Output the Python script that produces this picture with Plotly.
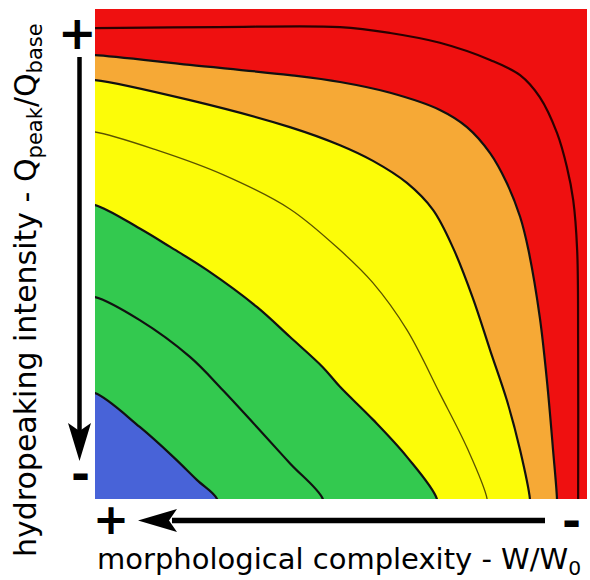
import plotly.graph_objects as go

# Contour lines (x: 0=left .. 1=right, y: 0=bottom .. 1=top)
c1_x = [0.0, 0.091, 0.159, 0.207, 0.248]
c1_y = [0.216, 0.147, 0.086, 0.039, 0.0]

c2_x = [0.0, 0.091, 0.193, 0.260, 0.329, 0.396, 0.463]
c2_y = [0.412, 0.365, 0.290, 0.222, 0.147, 0.073, 0.0]

c3_x = [0.0, 0.091, 0.152, 0.228, 0.329, 0.396, 0.463, 0.498, 0.565, 0.634, 0.695]
c3_y = [0.600, 0.552, 0.515, 0.467, 0.392, 0.331, 0.269, 0.229, 0.162, 0.086, 0.0]

c4_x = [0.0, 0.126, 0.260, 0.396, 0.498, 0.565, 0.634, 0.701, 0.756, 0.797]
c4_y = [0.749, 0.712, 0.662, 0.592, 0.508, 0.441, 0.345, 0.215, 0.105, 0.0]

c5_x = [0.0, 0.193, 0.396, 0.498, 0.565, 0.634, 0.687, 0.728, 0.768, 0.803, 0.837, 0.864, 0.884]
c5_y = [0.855, 0.814, 0.759, 0.722, 0.690, 0.645, 0.590, 0.512, 0.410, 0.304, 0.202, 0.100, 0.0]

c6_x = [0.0, 0.193, 0.396, 0.498, 0.600, 0.701, 0.756, 0.803, 0.837, 0.864, 0.881, 0.904, 0.919, 0.931, 0.939]
c6_y = [0.906, 0.886, 0.865, 0.851, 0.829, 0.794, 0.759, 0.706, 0.645, 0.576, 0.508, 0.371, 0.237, 0.100, 0.0]

c7_x = [0.0, 0.250, 0.498, 0.600, 0.701, 0.803, 0.864, 0.904, 0.939, 0.959, 0.972, 0.980, 0.982, 0.982]
c7_y = [0.961, 0.963, 0.963, 0.951, 0.931, 0.896, 0.865, 0.820, 0.747, 0.678, 0.610, 0.508, 0.304, 0.0]

RED = "#EF1010"
ORANGE = "#F6A936"
YELLOW = "#FCFC08"
GREEN = "#33C94F"
BLUE = "#4863D8"

contours = [
    (c7_x, c7_y, RED, "#2a0000", 2.2),
    (c6_x, c6_y, ORANGE, "#111111", 2.2),
    (c5_x, c5_y, YELLOW, "#111111", 2.2),
    (c4_x, c4_y, YELLOW, "#5a5200", 1.3),
    (c3_x, c3_y, GREEN, "#111111", 2.2),
    (c2_x, c2_y, GREEN, "#111111", 2.2),
    (c1_x, c1_y, BLUE, "#111111", 2.2),
]

EXT = 0.03  # closing path runs just outside the (clipped) plot area
fig = go.Figure()
for xs, ys, fillc, lc, lw in contours:
    px_ = [-EXT] + list(xs) + [xs[-1], -EXT]
    py_ = [ys[0]] + list(ys) + [-EXT, -EXT]
    fig.add_trace(go.Scatter(x=px_, y=py_, mode="lines", fill="toself", fillcolor=fillc,
                             line=dict(color=lc, width=lw, shape="spline", smoothing=1.0),
                             hoverinfo="skip", showlegend=False))

W, H = 590, 580
L, R, T, B = 95, 3, 9, 81
PW, PH = W - L - R, H - T - B


def px(x):
    return (x - L) / PW


def py(y):
    return (H - B - y) / PH


shapes = []
# vertical arrow
shapes.append(dict(type="line", xref="paper", yref="paper", x0=px(79.5), x1=px(79.5), y0=py(57), y1=py(432),
                   line=dict(color="black", width=4.5)))
shapes.append(dict(type="path", xref="paper", yref="paper", fillcolor="black", line=dict(width=0),
                   path=f"M {px(68)},{py(423)} L {px(79.5)},{py(461)} L {px(91)},{py(423)} L {px(79.5)},{py(431)} Z"))
# horizontal arrow
shapes.append(dict(type="line", xref="paper", yref="paper", x0=px(545), x1=px(172), y0=py(520.5), y1=py(520.5),
                   line=dict(color="black", width=5.5)))
shapes.append(dict(type="path", xref="paper", yref="paper", fillcolor="black", line=dict(width=0),
                   path=f"M {px(177)},{py(509)} L {px(138)},{py(520.5)} L {px(177)},{py(532)} L {px(169)},{py(520.5)} Z"))

FONT = "DejaVu Sans"
SYM = dict(family="DejaVu Sans", color="black", weight="bold")
annotations = [
    dict(text="+", x=px(77), y=py(33), font=dict(size=46, **SYM)),
    dict(text="-", x=px(80), y=py(474), font=dict(size=46, **SYM)),
    dict(text="+", x=px(111), y=py(519), font=dict(size=43, **SYM)),
    dict(text="-", x=px(571), y=py(521), font=dict(size=46, **SYM)),
    dict(text="morphological complexity - W/W<sub>0</sub>", x=px(339), y=py(561),
         font=dict(size=29, family=FONT, color="black")),
    dict(text="hydropeaking intensity - Q<sub>peak</sub>/Q<sub>base</sub>", x=px(27), y=py(290),
         textangle=-90, font=dict(size=30, family=FONT, color="black")),
]
for a in annotations:
    a.update(xref="paper", yref="paper", showarrow=False, xanchor="center", yanchor="middle")

fig.update_layout(
    width=W, height=H,
    margin=dict(l=L, r=R, t=T, b=B),
    paper_bgcolor="white", plot_bgcolor=RED,
    xaxis=dict(range=[0, 1], visible=False, fixedrange=True),
    yaxis=dict(range=[0, 1], visible=False, fixedrange=True),
    shapes=shapes, annotations=annotations,
)
fig.write_html("out.html")
